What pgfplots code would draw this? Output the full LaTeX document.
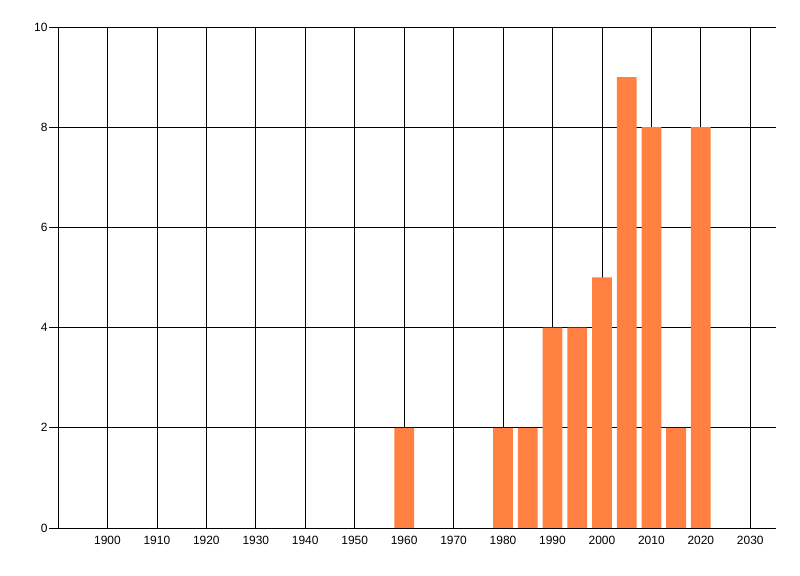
\documentclass[border=0pt]{standalone}
\usepackage{pgfplots}
\pgfplotsset{compat=1.18}
\usepackage{fontspec}
\setmainfont{Liberation Sans}
\definecolor{barorange}{RGB}{255,128,64}

\begin{document}
\begin{tikzpicture}
\path[use as bounding box] (0,0) rectangle (800bp,576bp);
\begin{axis}[
    at={(58bp,48bp)}, anchor=south west,
    scale only axis,
    width=718bp, height=501bp,
    xmin=1890, xmax=2035.2,
    ymin=0, ymax=10,
    xtick={1900,1910,...,2030},
    ytick={0,2,...,10},
    axis x line*=bottom,
    axis y line*=left,
    axis line style={black, line width=0.8pt, -},
    grid=major,
    major grid style={black, line width=0.8pt},
    tick align=outside,
    major tick length=9bp,
    xtick style={draw=none},
    ytick style={black, line width=0.8pt},
    xticklabel style={yshift=4bp},
    yticklabel style={xshift=2bp},
    tick label style={font=\large},
    /pgf/number format/assume math mode=true,
    /pgf/number format/1000 sep={},
    ybar, bar width=4,
]
\addplot[fill=barorange, draw=none] coordinates {
    (1960,2) (1980,2) (1985,2) (1990,4) (1995,4)
    (2000,5) (2005,9) (2010,8) (2015,2) (2020,8)
};
\end{axis}
\end{tikzpicture}
\end{document}
